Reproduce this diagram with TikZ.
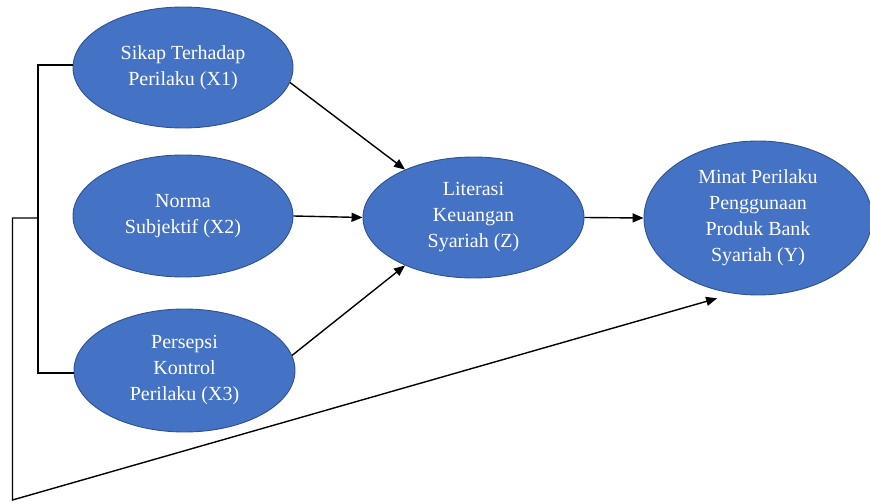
\documentclass[tikz,border=0pt]{standalone}
\usepackage{fontspec}
\setmainfont{Liberation Serif}
\usetikzlibrary{shapes.geometric,arrows.meta}
\definecolor{varfill}{HTML}{4472C4}
\definecolor{varline}{HTML}{2F528F}
\tikzset{
  var/.style={ellipse, draw=varline, line width=0.9pt, fill=varfill,
    text=white, inner sep=0pt, align=center,
    font=\fontsize{20}{26}\selectfont},
  link/.style={line width=1.4pt, draw=black},
  arr/.style={link, -{Triangle[length=11pt,width=9pt]}}
}
\begin{document}
\begin{tikzpicture}[x=1pt,y=-1pt]
\useasboundingbox (0,0) rectangle (870,502);

% constructs
\node[var, minimum width=220pt, minimum height=121pt] (x1) at (183,67.5) {Sikap Terhadap\\Perilaku (X1)};
\node[var, minimum width=220pt, minimum height=122pt] (x2) at (183,216) {Norma\\Subjektif (X2)};
\node[var, minimum width=221pt, minimum height=123pt] (x3) at (184.5,370.5) {Persepsi\\Kontrol\\Perilaku (X3)};
\node[var, minimum width=221pt, minimum height=121pt] (z) at (473.5,217.5) {Literasi\\Keuangan\\Syariah (Z)};
\node[var, minimum width=228pt, minimum height=154pt] (y) at (758,218) {Minat Perilaku\\Penggunaan\\Produk Bank\\Syariah (Y)};

% bracket joining the three exogenous constructs
\coordinate (ba) at (38,65);
\coordinate (bb) at (38,373);
\coordinate (bm) at (38,218);
\coordinate (bc) at (12.5,218);
\coordinate (bd) at (12.5,500);
\draw[link] (x1.west |- ba) -- (ba) -- (bb) -- (x3.west |- bb);

% paths
\draw[arr] (x1.-8) -- (z.145);
\draw[arr] (x2.east) -- (z.west);
\draw[arr] (x3.8) -- (z.215);
\draw[arr] (z.east) -- (y.west);
\draw[arr, shorten >=17pt] (bm) -- (bc) -- (bd) -- (y.252);
\end{tikzpicture}
\end{document}
